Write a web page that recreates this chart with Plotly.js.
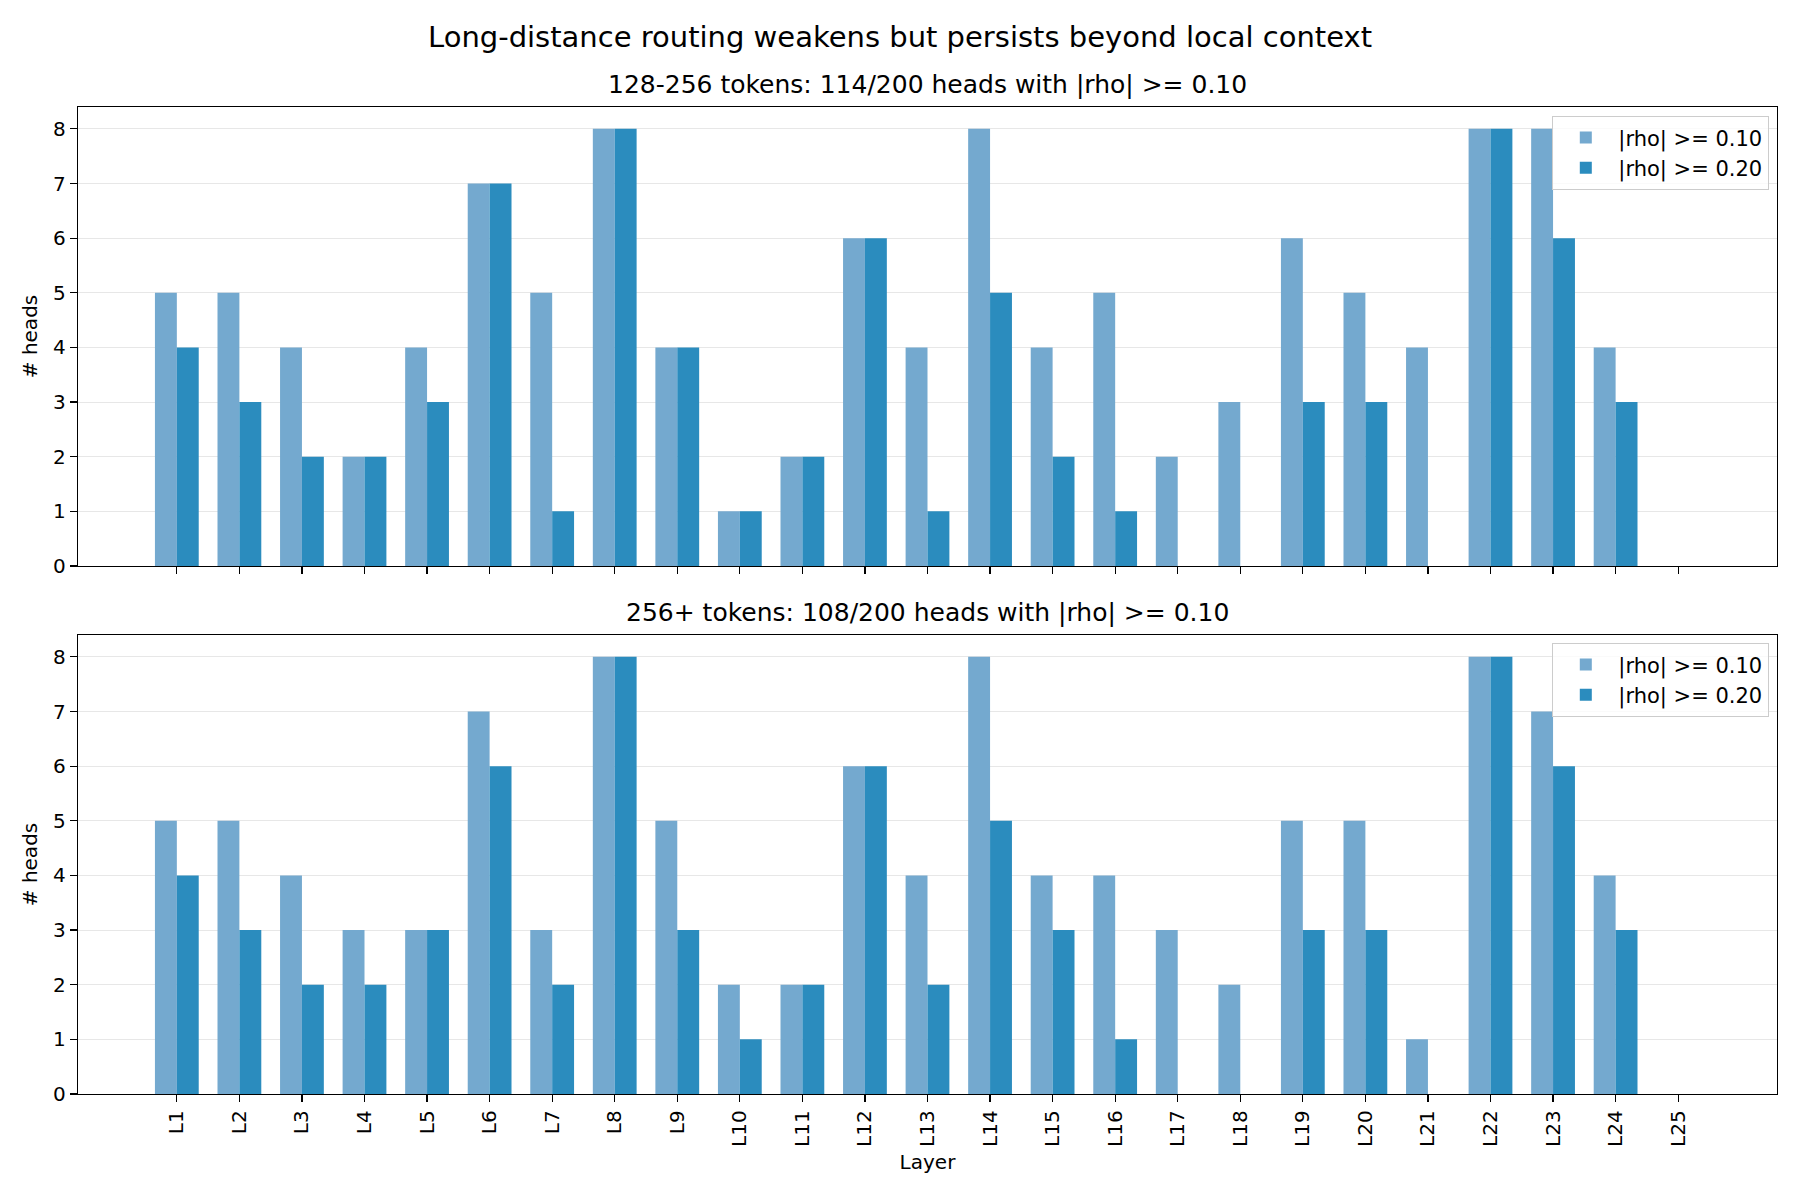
<!DOCTYPE html>
<html>
<head>
<meta charset="utf-8">
<script src="https://cdn.plot.ly/plotly-3.0.1.min.js"></script>
<style>html,body{margin:0;padding:0;background:#fff;}#chart{width:1800px;height:1200px;}</style>
</head>
<body>
<div id="chart"></div>
<script>
const layers = ["L1","L2","L3","L4","L5","L6","L7","L8","L9","L10","L11","L12","L13","L14","L15","L16","L17","L18","L19","L20","L21","L22","L23","L24","L25"];
const shortRho10 = [5,5,4,2,4,7,5,8,4,1,2,6,4,8,4,5,2,3,6,5,4,8,8,4,0];
const shortRho20 = [4,3,2,2,3,7,1,8,4,1,2,6,1,5,2,1,0,0,3,3,0,8,6,3,0];
const longRho10  = [5,5,4,3,3,7,3,8,5,2,2,6,4,8,4,4,3,2,5,5,1,8,7,4,0];
const longRho20  = [4,3,2,2,3,6,2,8,3,1,2,6,2,5,3,1,0,0,3,3,0,8,6,3,0];
const seriesNames = ["|rho| >= 0.10", "|rho| >= 0.20"];
const topTitle = "128-256 tokens: 114/200 heads with |rho| >= 0.10";
const bottomTitle = "256+ tokens: 108/200 heads with |rho| >= 0.10";
const figTitle = "Long-distance routing weakens but persists beyond local context";

const lightC = "#74a9cf", darkC = "#2b8cbe";
const font = "DejaVu Sans, sans-serif";
const tickSize = 20;

function bar(y, name, color, xa, ya, leg) {
  return {type:"bar", x: layers, y: y, name: name, xaxis: xa, yaxis: ya, legend: leg,
    marker:{color: color, line:{width:0}}, hoverinfo:"skip"};
}
const data = [
  bar(shortRho10, seriesNames[0], lightC, "x", "y", "legend"),
  bar(shortRho20, seriesNames[1], darkC, "x", "y", "legend"),
  bar(longRho10, seriesNames[0], lightC, "x2", "y2", "legend2"),
  bar(longRho20, seriesNames[1], darkC, "x2", "y2", "legend2")
];

const xl = 78/1800, xr = 1777/1800;
const topDom = [1-566/1200, 1-107/1200];
const botDom = [1-1094/1200, 1-635/1200];

function xaxis(dom, showLabels, anchor) {
  return {domain:[xl,xr], anchor: anchor, type:"category", range:[-1.58, 25.58],
    showgrid:false, zeroline:false, showline:true, mirror:true, linecolor:"#000", linewidth:1.3,
    ticks:"outside", ticklen:7, tickcolor:"#000", tickwidth:1.2, showticklabels: showLabels,
    tickangle:-90, tickfont:{family:font, size:tickSize, color:"#000"}};
}
function yaxis(dom, anchor) {
  return {domain: dom, anchor: anchor, range:[0, 8.4], tickvals:[0,1,2,3,4,5,6,7,8],
    showgrid:true, gridcolor:"rgba(176,176,176,0.3)", gridwidth:1, zeroline:false,
    showline:true, mirror:true, linecolor:"#000", linewidth:1.3,
    ticks:"outside", ticklen:7, tickcolor:"#000", tickwidth:1.2,
    tickfont:{family:font, size:tickSize, color:"#000"},
    title:{text:"# heads", font:{family:font, size:tickSize, color:"#000"}, standoff:10}};
}
const legendBase = {xanchor:"right", yanchor:"top", bgcolor:"rgba(255,255,255,0.8)",
  bordercolor:"#cccccc", borderwidth:1.3, font:{family:font, size:21, color:"#000"},
  tracegroupgap:2, itemwidth:55};

const layout = {
  width:1800, height:1200, margin:{l:0,r:0,t:0,b:0}, paper_bgcolor:"#fff", plot_bgcolor:"#fff",
  barmode:"group", bargap:0.3, bargroupgap:0, showlegend:true,
  xaxis: xaxis(topDom, false, "y"),
  yaxis: yaxis(topDom, "x"),
  xaxis2: Object.assign(xaxis(botDom, true, "y2"), {title:{text:"Layer", font:{family:font, size:tickSize, color:"#000"}, standoff:9}}),
  yaxis2: yaxis(botDom, "x2"),
  legend: Object.assign({x: 1769/1800, y: 1-116/1200}, legendBase),
  legend2: Object.assign({x: 1769/1800, y: 1-643/1200}, legendBase),
  annotations: [
    {text: figTitle, xref:"paper", yref:"paper", x:0.5, y:1-37/1200, xanchor:"center", yanchor:"middle",
      showarrow:false, font:{family:font, size:29, color:"#000"}},
    {text: topTitle, xref:"paper", yref:"paper", x:(xl+xr)/2, y:topDom[1], yshift:6, xanchor:"center", yanchor:"bottom",
      showarrow:false, font:{family:font, size:25, color:"#000"}},
    {text: bottomTitle, xref:"paper", yref:"paper", x:(xl+xr)/2, y:botDom[1], yshift:6, xanchor:"center", yanchor:"bottom",
      showarrow:false, font:{family:font, size:25, color:"#000"}}
  ]
};
Plotly.newPlot("chart", data, layout, {staticPlot:true, displayModeBar:false});
</script>
</body>
</html>
